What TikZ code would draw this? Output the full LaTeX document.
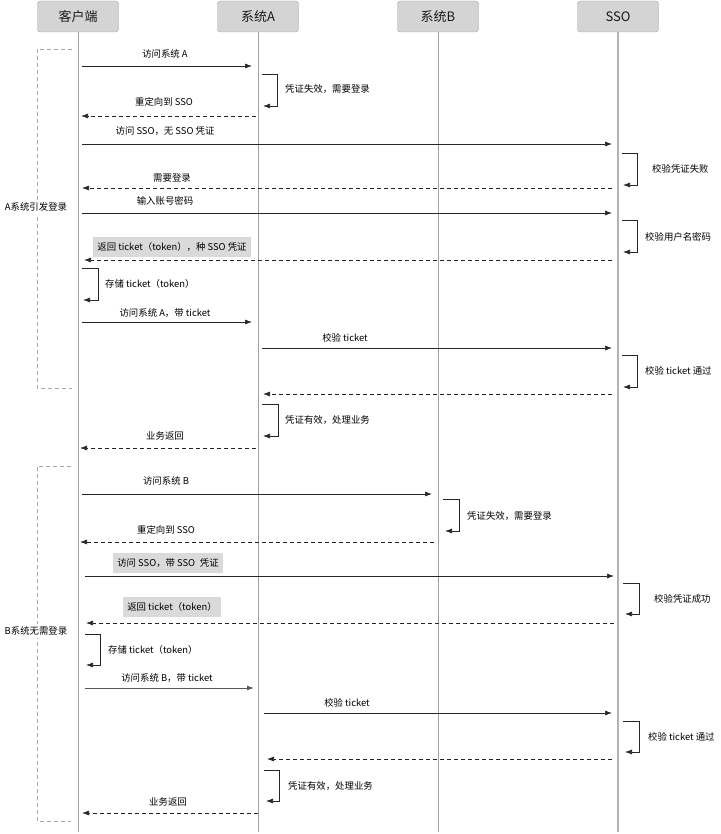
\documentclass[tikz,border=0pt]{standalone}
\usepackage{fontspec}
\setmainfont{Noto Sans CJK SC}
\usetikzlibrary{arrows.meta}
\definecolor{headfill}{HTML}{D4D4D4}
\definecolor{headline}{HTML}{A4A4A4}
\definecolor{lifeline}{HTML}{A0A0A0}
\definecolor{notefill}{HTML}{DADADA}
\definecolor{grpline}{HTML}{A8A8A8}

\begin{document}
\begin{tikzpicture}[x=1pt, y=-1pt,
  head/.style={draw=headline, fill=headfill, rounded corners=3pt, minimum width=81pt, minimum height=31pt, font=\fontsize{13}{13}\selectfont, text=black!90},
  life/.style={draw=lifeline, line width=0.9pt},
  msg/.style={draw=black!85, line width=0.7pt, -{Latex[length=7pt,width=5pt]}},
  reply/.style={msg, dash pattern=on 4pt off 3pt},
  lbl/.style={font=\fontsize{9.4}{10}\selectfont, text=black, inner sep=1pt},
  note/.style={lbl, fill=notefill, inner xsep=4pt, minimum height=20pt},
  grp/.style={draw=grpline, line width=0.7pt, dash pattern=on 4pt off 3pt},
  grplbl/.style={lbl, fill=white, inner ysep=3pt}]
\useasboundingbox (0,0) rectangle (720,834);

% participants
\node[head] (client) at (78,16.5) {客户端};
\node[head] (sysA) at (258,16.5) {系统A};
\node[head] (sysB) at (438,16.5) {系统B};
\node[head] (sso) at (618,16.5) {SSO};
\coordinate (client-end) at (78,832);
\coordinate (sysA-end) at (258,832);
\coordinate (sysB-end) at (438,832);
\coordinate (sso-end) at (618,832);
\draw[life] (client) -- (client-end);
\draw[life] (sysA) -- (sysA-end);
\draw[life] (sysB) -- (sysB-end);
\draw[life, line width=1.3pt, draw=lifeline!80] (sso) -- (sso-end);

% groups
\coordinate (gA1) at (72,49); \coordinate (gA2) at (72,388);
\draw[grp] (gA1) -- ++(-35,0) |- (gA2);
\node[grplbl] (gAlbl) at (36,207) {A系统引发登录};
\coordinate (gB1) at (71,466); \coordinate (gB2) at (71,821);
\draw[grp] (gB1) -- ++(-34,0) |- (gB2);
\node[grplbl] (gBlbl) at (36,631) {B系统无需登录};

% A system triggers login
\path (82,66) coordinate (m1s) (252,66) coordinate (m1e);
\draw[msg] (m1s) -- (m1e);
\node[lbl] (l1) at (165,54) {访问系统 A};
\path (262,74) coordinate (m2s) (263,106) coordinate (m2e);
\draw[msg] (m2s) -- ++(15,0) |- (m2e);
\node[lbl, anchor=west] (l2) at (284,89) {凭证失效，需要登录};
\path (256,116) coordinate (m3s) (81,116) coordinate (m3e);
\draw[reply] (m3s) -- (m3e);
\node[lbl] (l3) at (164,102) {重定向到 SSO};
\path (82,144) coordinate (m4s) (612,144) coordinate (m4e);
\draw[msg] (m4s) -- (m4e);
\node[lbl] (l4) at (165,131) {访问 SSO，无 SSO 凭证};
\path (622,153) coordinate (m5s) (623,185) coordinate (m5e);
\draw[msg] (m5s) -- ++(15,0) |- (m5e);
\node[lbl, anchor=west] (l5) at (651,169) {校验凭证失败};
\path (612,188) coordinate (m6s) (82,188) coordinate (m6e);
\draw[reply] (m6s) -- (m6e);
\node[lbl] (l6) at (172,178) {需要登录};
\path (82,213) coordinate (m7s) (612,213) coordinate (m7e);
\draw[msg] (m7s) -- (m7e);
\node[lbl] (l7) at (165,201) {输入账号密码};
\path (622,220) coordinate (m8s) (623,252) coordinate (m8e);
\draw[msg] (m8s) -- ++(15,0) |- (m8e);
\node[lbl, anchor=west] (l8) at (644,237) {校验用户名密码};
\path (612,260) coordinate (m9s) (84,260) coordinate (m9e);
\draw[reply] (m9s) -- (m9e);
\node[note] (l9) at (172,247) {返回 ticket（token），种 SSO 凭证};
\path (82,268) coordinate (m10s) (83,300) coordinate (m10e);
\draw[msg] (m10s) -- ++(16,0) |- (m10e);
\node[lbl, anchor=west] (l10) at (104,284) {存储 ticket（token）};
\path (82,322) coordinate (m11s) (252,322) coordinate (m11e);
\draw[msg] (m11s) -- (m11e);
\node[lbl] (l11) at (165,313) {访问系统 A，带 ticket};
\path (262,348) coordinate (m12s) (612,348) coordinate (m12e);
\draw[msg] (m12s) -- (m12e);
\node[lbl] (l12) at (345,338) {校验 ticket};
\path (622,355) coordinate (m13s) (623,387) coordinate (m13e);
\draw[msg] (m13s) -- ++(15,0) |- (m13e);
\node[lbl, anchor=west] (l13) at (644,371) {校验 ticket 通过};
\path (612,394) coordinate (m14s) (263,394) coordinate (m14e);
\draw[reply] (m14s) -- (m14e);
\path (262,404) coordinate (m15s) (263,436) coordinate (m15e);
\draw[msg] (m15s) -- ++(16,0) |- (m15e);
\node[lbl, anchor=west] (l15) at (284,420) {凭证有效，处理业务};
\path (256,448) coordinate (m16s) (80,448) coordinate (m16e);
\draw[reply] (m16s) -- (m16e);
\node[lbl] (l16) at (165,436) {业务返回};

% B system needs no login
\path (82,494) coordinate (m17s) (432,494) coordinate (m17e);
\draw[msg] (m17s) -- (m17e);
\node[lbl] (l17) at (166,481) {访问系统 B};
\path (443,499) coordinate (m18s) (445,531) coordinate (m18e);
\draw[msg] (m18s) -- ++(16,0) |- (m18e);
\node[lbl, anchor=west] (l18) at (466,516) {凭证失效，需要登录};
\path (434,542) coordinate (m19s) (80,542) coordinate (m19e);
\draw[reply] (m19s) -- (m19e);
\node[lbl] (l19) at (166,530) {重定向到 SSO};
\path (85,576) coordinate (m20s) (614,576) coordinate (m20e);
\draw[msg] (m20s) -- (m20e);
\node[note] (l20) at (168,563) {访问 SSO，带 SSO\enspace 凭证};
\path (623,583) coordinate (m21s) (625,614) coordinate (m21e);
\draw[msg] (m21s) -- ++(16,0) |- (m21e);
\node[lbl, anchor=west] (l21) at (653,599) {校验凭证成功};
\path (614,623) coordinate (m22s) (86,623) coordinate (m22e);
\draw[reply] (m22s) -- (m22e);
\node[note] (l22) at (172,607) {返回 ticket（token）};
\path (85,634) coordinate (m23s) (86,665) coordinate (m23e);
\draw[msg] (m23s) -- ++(15,0) |- (m23e);
\node[lbl, anchor=west] (l23) at (107,650) {存储 ticket（token）};
\path (85,688) coordinate (m24s) (254,688) coordinate (m24e);
\draw[msg, line width=1pt, draw=black!65] (m24s) -- (m24e);
\node[lbl] (l24) at (167,678) {访问系统 B，带 ticket};
\path (264,713) coordinate (m25s) (612,713) coordinate (m25e);
\draw[msg] (m25s) -- (m25e);
\node[lbl] (l25) at (347,703) {校验 ticket};
\path (623,721) coordinate (m26s) (625,752) coordinate (m26e);
\draw[msg] (m26s) -- ++(16,0) |- (m26e);
\node[lbl, anchor=west] (l26) at (647,737) {校验 ticket 通过};
\path (612,759) coordinate (m27s) (267,759) coordinate (m27e);
\draw[reply] (m27s) -- (m27e);
\path (264,770) coordinate (m28s) (266,801) coordinate (m28e);
\draw[msg] (m28s) -- ++(15,0) |- (m28e);
\node[lbl, anchor=west] (l28) at (287,786) {凭证有效，处理业务};
\path (258,813) coordinate (m29s) (82,813) coordinate (m29e);
\draw[reply] (m29s) -- (m29e);
\node[lbl] (l29) at (168,802) {业务返回};
\end{tikzpicture}
\end{document}
